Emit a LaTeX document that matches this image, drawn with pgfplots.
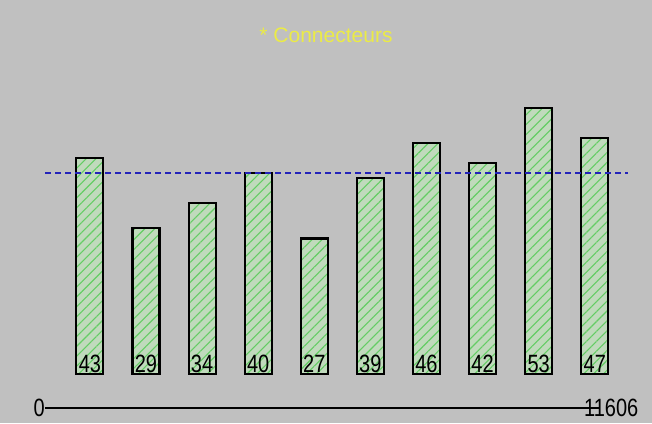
\documentclass[border=0pt]{standalone}
\usepackage{pgfplots}
\pgfplotsset{compat=1.18}
\usepackage{fontspec}
\setmainfont{Liberation Sans}
\newfontfamily\condfont[FakeStretch=0.8]{Liberation Sans}
\usetikzlibrary{patterns.meta}
\definecolor{bg}{RGB}{192,192,192}
\definecolor{barfill}{RGB}{192,218,188}
\definecolor{hatch}{RGB}{100,205,100}
\definecolor{titlecol}{RGB}{235,235,70}
\definecolor{meanline}{RGB}{35,35,185}
\begin{document}
\begin{tikzpicture}
\fill[bg] (0,0) rectangle (652pt,423pt);
\useasboundingbox (0,0) rectangle (652pt,423pt);
\begin{axis}[at={(45pt,49pt)}, anchor=south west, scale only axis,
  width=583.4pt, height=326.3pt, xmin=0.2, xmax=10.6, ymin=0, ymax=65,
  hide axis, clip=false]
\addplot[ybar, bar width=27pt, draw=black, line width=2.1pt,
  preaction={fill=barfill},
  pattern={Lines[angle=45, distance=7pt, line width=1.1pt]}, pattern color=hatch]
  coordinates {(1,43)(2,29)(3,34)(4,40)(5,27)(6,39)(7,46)(8,42)(9,53)(10,47)};
\addplot[color=meanline, line width=1.8pt, dash pattern=on 6pt off 4pt]
  coordinates {(0.2,40)(10.6,40)};
\addplot[draw=none, mark=none, nodes near coords, point meta=explicit symbolic,
  nodes near coords align={anchor=south},
  nodes near coords style={font=\condfont\fontsize{25}{25}\selectfont, inner sep=0pt, yshift=1.5pt, text=black}]
  coordinates {(1,0)[43](2,0)[29](3,0)[34](4,0)[40](5,0)[27](6,0)[39](7,0)[46](8,0)[42](9,0)[53](10,0)[47]};
\end{axis}
\node[text=titlecol, font=\fontsize{21}{21}\selectfont] at (326pt,388pt) {* Connecteurs};
\draw[line width=1.8pt] (45pt,15pt) -- (600pt,15pt);
\node[font=\condfont\fontsize{25}{25}\selectfont, inner sep=0pt, anchor=east] at (45pt,15pt) {0};
\node[font=\condfont\fontsize{25}{25}\selectfont, inner sep=0pt, anchor=west] at (584pt,15pt) {11606};
\end{tikzpicture}
\end{document}
